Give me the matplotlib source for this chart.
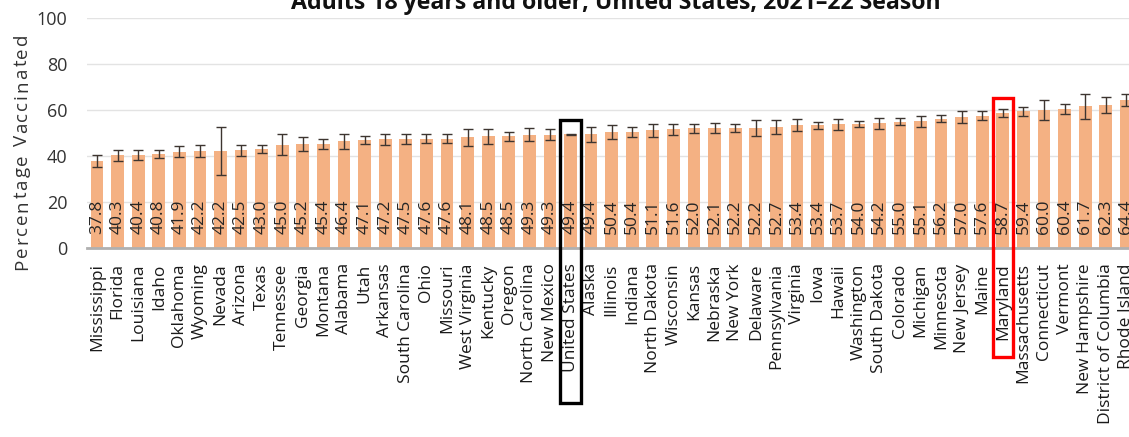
import matplotlib
matplotlib.use("Agg")
import matplotlib.pyplot as plt
from matplotlib.patches import Rectangle
from matplotlib.font_manager import FontProperties
from matplotlib.textpath import TextToPath
import numpy as np

# Flu vaccination coverage by state, adults 18+, 2021-22 season
states = [
    "Mississippi", "Florida", "Louisiana", "Idaho", "Oklahoma", "Wyoming", "Nevada",
    "Arizona", "Texas", "Tennessee", "Georgia", "Montana", "Alabama", "Utah",
    "Arkansas", "South Carolina", "Ohio", "Missouri", "West Virginia", "Kentucky",
    "Oregon", "North Carolina", "New Mexico", "United States", "Alaska", "Illinois",
    "Indiana", "North Dakota", "Wisconsin", "Kansas", "Nebraska", "New York",
    "Delaware", "Pennsylvania", "Virginia", "Iowa", "Hawaii", "Washington",
    "South Dakota", "Colorado", "Michigan", "Minnesota", "New Jersey", "Maine",
    "Maryland", "Massachusetts", "Connecticut", "Vermont", "New Hampshire",
    "District of Columbia", "Rhode Island",
]
coverage = [
    37.8, 40.3, 40.4, 40.8, 41.9, 42.2, 42.2, 42.5, 43.0, 45.0, 45.2, 45.4, 46.4,
    47.1, 47.2, 47.5, 47.6, 47.6, 48.1, 48.5, 48.5, 49.3, 49.3, 49.4, 49.4, 50.4,
    50.4, 51.1, 51.6, 52.0, 52.1, 52.2, 52.2, 52.7, 53.4, 53.4, 53.7, 54.0, 54.2,
    55.0, 55.1, 56.2, 57.0, 57.6, 58.7, 59.4, 60.0, 60.4, 61.7, 62.3, 64.4,
]
# 95% confidence interval half-widths
ci_half = [
    2.6, 2.3, 2.2, 1.7, 2.5, 2.7, 10.3, 2.4, 1.9, 4.7, 3.1, 2.2, 3.3, 1.8,
    2.5, 2.2, 2.0, 2.0, 3.8, 3.3, 1.8, 2.8, 2.5, 0.3, 3.4, 2.9, 2.3, 3.0,
    2.5, 2.0, 2.3, 1.8, 3.3, 3.1, 2.5, 1.6, 2.2, 1.2, 2.4, 1.7, 2.4, 1.5,
    2.5, 2.0, 1.8, 1.8, 4.3, 2.2, 5.4, 3.4, 2.7,
]
y_ticks = [0, 20, 40, 60, 80, 100]

national = "United States"
highlighted = "Maryland"

FONT = ["Open Sans", "DejaVu Sans"]
plt.rcParams["font.family"] = FONT

DPI = 100
W_PX, H_PX = 1129, 437
fig = plt.figure(figsize=(W_PX / DPI, H_PX / DPI), dpi=DPI)
ax = fig.add_axes([0.0768, 0.4325, 0.930, 0.5263])

x = np.arange(len(states))
bar_color = "#F4B183"
ax.bar(x, coverage, width=0.62, color=bar_color, zorder=2)
ax.errorbar(x, coverage, yerr=ci_half, fmt="none", ecolor="#3d3530",
            elinewidth=1.0, capsize=3.5, capthick=1.0, zorder=3)

# value labels standing upright near the foot of each bar
for xi, v in zip(x, coverage):
    ax.text(xi, 6.0, f"{v:.1f}", rotation=90, ha="center", va="bottom",
            fontsize=12.5, color="#262626", zorder=4)

ax.set_xlim(-0.5, len(states) - 0.5)
ax.set_ylim(0, 100)
ax.set_yticks(y_ticks)
ax.set_yticklabels([str(t) for t in y_ticks], fontsize=13, color="#333333")
ax.set_xticks(x)
ax.set_xticklabels(states, rotation=90, fontsize=12.5, color="#1a1a1a")
ax.tick_params(axis="x", length=0, pad=11)
ax.tick_params(axis="y", length=0, pad=14)

ax.grid(axis="y", color="#e3e3e3", linewidth=1.0, zorder=0)
for side in ("top", "right", "left"):
    ax.spines[side].set_visible(False)
ax.spines["bottom"].set_color("#b0b0b0")
ax.spines["bottom"].set_linewidth(2.0)
ax.spines["bottom"].set_zorder(5)

# outline boxes around the national estimate and the highlighted state
for name, color, top, bottom in [(national, "black", 55.7, -67.5),
                                 (highlighted, "#ff0000", 65.2, -47.5)]:
    i = states.index(name)
    ax.add_patch(Rectangle((i - 0.49, bottom), 0.98, top - bottom, fill=False,
                           edgecolor=color, linewidth=2.4, clip_on=False, zorder=6))

fig.text(616 / W_PX, 1 - 9 / H_PX, "Adults 18 years and older, United States, 2021\u201322 Season",
         ha="center", va="baseline", fontsize=16.7, fontweight="bold", color="#111111")


def tracked_vertical_text(fig, text, baseline_x_px, y_bottom_px, size, tracking_px, color):
    """Draw text rotated 90 degrees, reading upward, with extra letter spacing."""
    prop = FontProperties(family=FONT, size=size)
    t2p = TextToPath()
    px_per_pt = DPI / 72.0
    for k, ch in enumerate(text):
        if ch == " ":
            continue
        prefix_w = t2p.get_text_width_height_descent(text[:k], prop, ismath=False)[0] if k else 0.0
        offset = prefix_w * px_per_pt + k * tracking_px
        fig.text(baseline_x_px / W_PX, (H_PX - y_bottom_px + offset) / H_PX, ch,
                 rotation=90, rotation_mode="anchor", ha="left", va="baseline",
                 fontproperties=prop, color=color)


tracked_vertical_text(fig, "Percentage Vaccinated", 27, 270, 13.5, 1.9, "#333333")

fig.savefig("out.png", dpi=DPI)
